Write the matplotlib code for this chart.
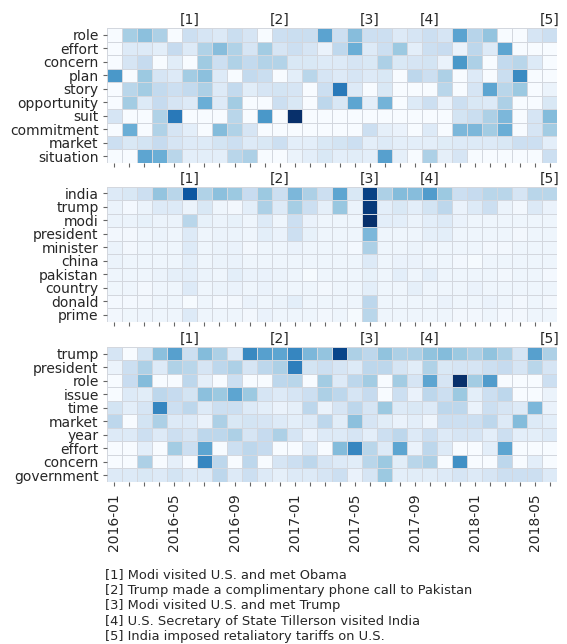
import numpy as np
import matplotlib.pyplot as plt

months = ['2016-01', '2016-02', '2016-03', '2016-04', '2016-05', '2016-06', '2016-07', '2016-08',
          '2016-09', '2016-10', '2016-11', '2016-12', '2017-01', '2017-02', '2017-03', '2017-04',
          '2017-05', '2017-06', '2017-07', '2017-08', '2017-09', '2017-10', '2017-11', '2017-12',
          '2018-01', '2018-02', '2018-03', '2018-04', '2018-05', '2018-06']

event_months = ['2016-06', '2016-12', '2017-06', '2017-10', '2018-06']
event_tags = ['[1]', '[2]', '[3]', '[4]', '[5]']
event_notes = ['[1] Modi visited U.S. and met Obama',
               '[2] Trump made a complimentary phone call to Pakistan',
               '[3] Modi visited U.S. and met Trump',
               '[4] U.S. Secretary of State Tillerson visited India',
               '[5] India imposed retaliatory tariffs on U.S.']

words_top = ['role', 'effort', 'concern', 'plan', 'story', 'opportunity', 'suit',
             'commitment', 'market', 'situation']
values_top = [
    [0.0, 0.35, 0.42, 0.33, 0.0, 0.22, 0.17, 0.14, 0.23, 0.17, 0.0, 0.22,
     0.23, 0.23, 0.55, 0.22, 0.43, 0.22, 0.22, 0.13, 0.17, 0.22, 0.17, 0.55, 0.30, 0.40, 0.0, 0.0, 0.17, 0.22],
    [0.0, 0.13, 0.13, 0.10, 0.25, 0.13, 0.32, 0.43, 0.32, 0.17, 0.36, 0.17,
     0.22, 0.17, 0.07, 0.27, 0.50, 0.13, 0.22, 0.38, 0.10, 0.22, 0.24, 0.07, 0.28, 0.13, 0.54, 0.0, 0.0, 0.0],
    [0.0, 0.17, 0.25, 0.0, 0.11, 0.0, 0.37, 0.22, 0.32, 0.26, 0.31, 0.31,
     0.15, 0.15, 0.13, 0.13, 0.17, 0.15, 0.33, 0.15, 0.17, 0.18, 0.07, 0.60, 0.33, 0.0, 0.26, 0.29, 0.13, 0.0],
    [0.60, 0.0, 0.38, 0.17, 0.13, 0.36, 0.42, 0.13, 0.0, 0.26, 0.23, 0.0,
     0.10, 0.29, 0.17, 0.13, 0.17, 0.13, 0.15, 0.0, 0.28, 0.22, 0.33, 0.0, 0.13, 0.0, 0.23, 0.65, 0.0, 0.0],
    [0.0, 0.29, 0.36, 0.26, 0.22, 0.26, 0.33, 0.13, 0.26, 0.11, 0.17, 0.18,
     0.17, 0.0, 0.22, 0.72, 0.13, 0.0, 0.15, 0.0, 0.0, 0.0, 0.29, 0.0, 0.17, 0.54, 0.29, 0.38, 0.0, 0.06],
    [0.0, 0.36, 0.13, 0.25, 0.17, 0.13, 0.50, 0.13, 0.36, 0.0, 0.0, 0.22,
     0.15, 0.0, 0.28, 0.16, 0.54, 0.10, 0.48, 0.0, 0.13, 0.22, 0.07, 0.22, 0.15, 0.13, 0.33, 0.0, 0.0, 0.15],
    [0.17, 0.0, 0.0, 0.32, 0.72, 0.0, 0.0, 0.0, 0.29, 0.0, 0.60, 0.0,
     1.00, 0.0, 0.0, 0.0, 0.0, 0.0, 0.0, 0.0, 0.0, 0.0, 0.0, 0.18, 0.23, 0.33, 0.46, 0.0, 0.17, 0.44],
    [0.0, 0.50, 0.0, 0.32, 0.17, 0.10, 0.0, 0.44, 0.32, 0.17, 0.0, 0.0,
     0.0, 0.0, 0.0, 0.0, 0.0, 0.22, 0.09, 0.07, 0.0, 0.13, 0.0, 0.46, 0.46, 0.36, 0.50, 0.0, 0.17, 0.36],
    [0.22, 0.15, 0.18, 0.25, 0.17, 0.13, 0.13, 0.18, 0.22, 0.13, 0.15, 0.22,
     0.10, 0.10, 0.15, 0.18, 0.22, 0.10, 0.13, 0.10, 0.10, 0.10, 0.12, 0.13, 0.13, 0.13, 0.15, 0.22, 0.22, 0.10],
    [0.0, 0.0, 0.54, 0.50, 0.29, 0.10, 0.10, 0.10, 0.29, 0.33, 0.0, 0.0,
     0.06, 0.10, 0.15, 0.10, 0.11, 0.10, 0.56, 0.09, 0.0, 0.33, 0.09, 0.17, 0.0, 0.0, 0.0, 0.0, 0.0, 0.22],
]

words_mid = ['india', 'trump', 'modi', 'president', 'minister', 'china', 'pakistan',
             'country', 'donald', 'prime']
values_mid = [
    [0.13, 0.15, 0.22, 0.40, 0.29, 0.85, 0.32, 0.42, 0.38, 0.24, 0.38, 0.22,
     0.46, 0.33, 0.22, 0.54, 0.15, 0.93, 0.33, 0.44, 0.43, 0.58, 0.38, 0.22, 0.25, 0.29, 0.29, 0.17, 0.29, 0.29],
    [0.06, 0.02, 0.06, 0.13, 0.13, 0.06, 0.15, 0.05, 0.03, 0.10, 0.33, 0.13,
     0.35, 0.22, 0.09, 0.39, 0.06, 0.96, 0.10, 0.15, 0.10, 0.18, 0.28, 0.07, 0.13, 0.22, 0.06, 0.03, 0.14, 0.07],
    [0.06, 0.06, 0.08, 0.06, 0.06, 0.29, 0.08, 0.06, 0.08, 0.05, 0.13, 0.05,
     0.22, 0.07, 0.05, 0.05, 0.05, 1.00, 0.10, 0.10, 0.06, 0.10, 0.13, 0.07, 0.05, 0.05, 0.05, 0.05, 0.05, 0.05],
    [0.03, 0.03, 0.05, 0.06, 0.05, 0.13, 0.05, 0.06, 0.06, 0.05, 0.10, 0.07,
     0.22, 0.08, 0.05, 0.05, 0.05, 0.46, 0.05, 0.05, 0.05, 0.09, 0.10, 0.05, 0.05, 0.05, 0.05, 0.03, 0.05, 0.05],
    [0.06, 0.03, 0.05, 0.05, 0.05, 0.13, 0.05, 0.06, 0.07, 0.03, 0.05, 0.05,
     0.07, 0.05, 0.05, 0.05, 0.02, 0.33, 0.05, 0.05, 0.06, 0.05, 0.05, 0.05, 0.05, 0.03, 0.03, 0.05, 0.05, 0.05],
    [0.06, 0.05, 0.05, 0.05, 0.05, 0.10, 0.05, 0.06, 0.07, 0.05, 0.05, 0.05,
     0.05, 0.05, 0.05, 0.05, 0.05, 0.13, 0.05, 0.07, 0.07, 0.05, 0.05, 0.03, 0.01, 0.05, 0.05, 0.05, 0.05, 0.05],
    [0.05, 0.05, 0.05, 0.06, 0.09, 0.10, 0.06, 0.05, 0.10, 0.07, 0.07, 0.06,
     0.05, 0.01, 0.05, 0.05, 0.05, 0.08, 0.05, 0.10, 0.05, 0.10, 0.05, 0.05, 0.05, 0.05, 0.03, 0.05, 0.05, 0.02],
    [0.04, 0.05, 0.03, 0.05, 0.05, 0.13, 0.05, 0.06, 0.07, 0.05, 0.07, 0.05,
     0.05, 0.05, 0.03, 0.05, 0.05, 0.10, 0.05, 0.05, 0.09, 0.05, 0.05, 0.05, 0.07, 0.05, 0.05, 0.05, 0.05, 0.05],
    [0.02, 0.02, 0.03, 0.05, 0.05, 0.01, 0.05, 0.02, 0.03, 0.07, 0.05, 0.06,
     0.10, 0.05, 0.05, 0.05, 0.05, 0.28, 0.05, 0.05, 0.05, 0.05, 0.07, 0.05, 0.05, 0.07, 0.05, 0.03, 0.05, 0.03],
    [0.03, 0.04, 0.05, 0.05, 0.05, 0.13, 0.05, 0.05, 0.05, 0.03, 0.07, 0.05,
     0.05, 0.05, 0.03, 0.05, 0.01, 0.29, 0.05, 0.05, 0.05, 0.05, 0.05, 0.03, 0.03, 0.05, 0.02, 0.03, 0.05, 0.05],
]

words_bot = ['trump', 'president', 'role', 'issue', 'time', 'market', 'year', 'effort',
             'concern', 'government']
values_bot = [
    [0.17, 0.0, 0.18, 0.42, 0.56, 0.22, 0.44, 0.33, 0.13, 0.66, 0.56, 0.54,
     0.67, 0.46, 0.40, 0.92, 0.33, 0.28, 0.41, 0.33, 0.33, 0.41, 0.44, 0.38, 0.33, 0.41, 0.33, 0.17, 0.56, 0.33],
    [0.06, 0.22, 0.33, 0.13, 0.32, 0.29, 0.17, 0.28, 0.33, 0.17, 0.28, 0.33,
     0.70, 0.18, 0.22, 0.17, 0.13, 0.28, 0.28, 0.17, 0.11, 0.32, 0.15, 0.17, 0.17, 0.22, 0.25, 0.17, 0.29, 0.17],
    [0.0, 0.24, 0.44, 0.0, 0.0, 0.28, 0.09, 0.0, 0.22, 0.0, 0.0, 0.28,
     0.29, 0.0, 0.36, 0.13, 0.28, 0.36, 0.0, 0.36, 0.17, 0.54, 0.17, 1.00, 0.36, 0.58, 0.0, 0.0, 0.0, 0.22],
    [0.0, 0.13, 0.11, 0.28, 0.25, 0.18, 0.42, 0.38, 0.54, 0.38, 0.17, 0.13,
     0.17, 0.22, 0.33, 0.28, 0.17, 0.25, 0.0, 0.22, 0.07, 0.28, 0.22, 0.38, 0.10, 0.22, 0.28, 0.0, 0.0, 0.06],
    [0.18, 0.10, 0.17, 0.67, 0.22, 0.28, 0.13, 0.22, 0.22, 0.13, 0.10, 0.07,
     0.09, 0.28, 0.07, 0.17, 0.28, 0.17, 0.38, 0.13, 0.15, 0.13, 0.28, 0.28, 0.07, 0.22, 0.17, 0.13, 0.46, 0.07],
    [0.28, 0.0, 0.18, 0.33, 0.13, 0.13, 0.07, 0.33, 0.15, 0.18, 0.17, 0.13,
     0.10, 0.13, 0.28, 0.11, 0.42, 0.17, 0.11, 0.07, 0.10, 0.05, 0.22, 0.22, 0.22, 0.28, 0.13, 0.44, 0.13, 0.10],
    [0.13, 0.13, 0.22, 0.13, 0.22, 0.17, 0.28, 0.28, 0.33, 0.17, 0.25, 0.33,
     0.17, 0.07, 0.13, 0.13, 0.17, 0.10, 0.22, 0.28, 0.13, 0.22, 0.13, 0.17, 0.17, 0.10, 0.22, 0.10, 0.10, 0.13],
    [0.0, 0.0, 0.10, 0.0, 0.36, 0.22, 0.54, 0.0, 0.22, 0.28, 0.25, 0.0,
     0.0, 0.13, 0.0, 0.44, 0.67, 0.29, 0.13, 0.54, 0.07, 0.28, 0.13, 0.0, 0.0, 0.10, 0.54, 0.0, 0.0, 0.0],
    [0.0, 0.0, 0.33, 0.0, 0.09, 0.0, 0.67, 0.28, 0.0, 0.28, 0.0, 0.17,
     0.22, 0.28, 0.17, 0.13, 0.11, 0.29, 0.38, 0.11, 0.29, 0.33, 0.0, 0.63, 0.0, 0.0, 0.28, 0.0, 0.10, 0.0],
    [0.13, 0.13, 0.15, 0.13, 0.18, 0.13, 0.13, 0.28, 0.13, 0.22, 0.13, 0.09,
     0.13, 0.13, 0.17, 0.22, 0.07, 0.17, 0.38, 0.10, 0.11, 0.11, 0.13, 0.17, 0.13, 0.17, 0.22, 0.22, 0.22, 0.13],
]

text_color = '#262626'
fig = plt.figure(figsize=(5.67, 6.44), dpi=100)

panels = [(words_top, values_top, 0.7469),
          (words_mid, values_mid, 0.5005),
          (words_bot, values_bot, 0.2516)]

for k, (words, values, bottom) in enumerate(panels):
    ax = fig.add_axes([0.1887, bottom, 0.7937, 0.2096])
    data = np.array(values)
    ax.pcolormesh(data, cmap='Blues', vmin=0, vmax=1,
                  edgecolors='#d3d7de', linewidth=0.5)
    ax.set_xlim(0, len(months))
    ax.set_ylim(len(words), 0)
    for s in ax.spines.values():
        s.set_visible(False)
    ax.set_yticks(np.arange(len(words)) + 0.5)
    ax.set_yticklabels(words)
    ax.set_xticks(np.arange(len(months)) + 0.5)
    if k == 2:
        ax.set_xticklabels([m if i % 4 == 0 else '' for i, m in enumerate(months)],
                           rotation=90)
    else:
        ax.set_xticklabels([])
    ax.tick_params(length=3, width=0.8, color='#666666', labelsize=10,
                   labelcolor=text_color, pad=3)
    ax.tick_params(axis='x', pad=5)
    for tag, m in zip(event_tags, event_months):
        ax.text(months.index(m) + 0.5, 1.005, tag, transform=ax.get_xaxis_transform(),
                ha='center', va='bottom', fontsize=10, color=text_color)

for i, note in enumerate(event_notes):
    fig.text(0.185, 1 - (575 + 15.4 * i) / 644, note, ha='left', va='center',
             fontsize=9.4, color=text_color)

plt.savefig('out.png', dpi=100)
